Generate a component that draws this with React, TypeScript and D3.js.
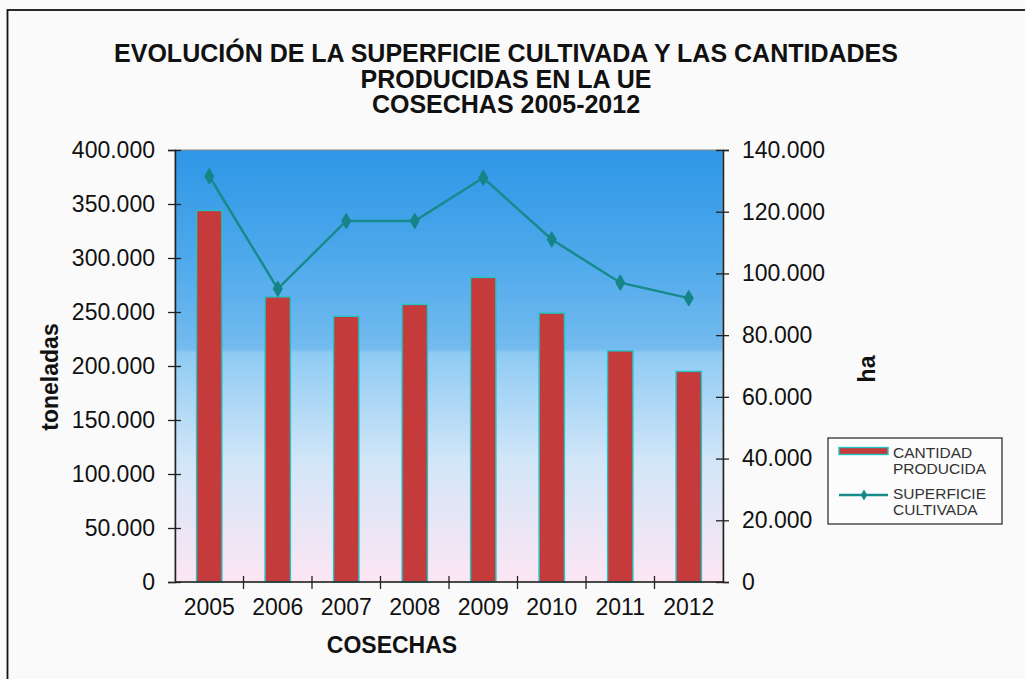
import * as d3 from "d3";
import { useEffect, useRef } from "react";

const years = ["2005", "2006", "2007", "2008", "2009", "2010", "2011", "2012"];
const cantidadProducida = [344000, 264000, 246000, 257000, 282000, 249000, 214000, 195000];
const superficieCultivada = [131500, 95000, 117000, 117000, 131000, 111000, 97000, 92000];
const leftTicks = [0, 50000, 100000, 150000, 200000, 250000, 300000, 350000, 400000];
const rightTicks = [0, 20000, 40000, 60000, 80000, 100000, 120000, 140000];
const titleLines = [
  "EVOLUCIÓN DE LA SUPERFICIE CULTIVADA Y LAS CANTIDADES",
  "PRODUCIDAS EN LA UE",
  "COSECHAS 2005-2012",
];

const FONT = "'Liberation Sans', Arial, sans-serif";

const App = () => {
  const ref = useRef<SVGSVGElement>(null);
  const width = 1025;
  const height = 679;

  useEffect(() => {
    const plot = { left: 175, right: 723, top: 150, bottom: 582 };
    const svg = d3.select(ref.current);
    svg.selectAll("*").remove();

    const es = d3.formatLocale({
      decimal: ",",
      thousands: ".",
      grouping: [3],
      currency: ["", "€"],
    });
    const fmt = es.format(",");

    svg.append("rect").attr("width", width).attr("height", height).attr("fill", "#fafafa");
    svg
      .append("rect")
      .attr("x", 7.5)
      .attr("y", 10)
      .attr("width", 1040)
      .attr("height", 700)
      .attr("fill", "none")
      .attr("stroke", "#111")
      .attr("stroke-width", 1.8);

    // title
    svg
      .append("g")
      .selectAll("text")
      .data(titleLines)
      .join("text")
      .attr("x", 506)
      .attr("y", (_, i) => 62 + i * 25.5)
      .attr("text-anchor", "middle")
      .attr("font-family", FONT)
      .attr("font-weight", "bold")
      .attr("font-size", 25)
      .attr("fill", "#111")
      .text((d) => d);

    const x = d3.scaleBand().domain(years).range([plot.left, plot.right]).padding(0);
    const yL = d3.scaleLinear().domain([0, 400000]).range([plot.bottom, plot.top]);
    const yR = d3.scaleLinear().domain([0, 140000]).range([plot.bottom, plot.top]);

    // background gradient
    const defs = svg.append("defs");
    const grad = defs
      .append("linearGradient")
      .attr("id", "bg")
      .attr("x1", 0)
      .attr("y1", 0)
      .attr("x2", 0)
      .attr("y2", 1);
    [
      [0, "#2e96e6"],
      [0.25, "#4ea9eb"],
      [0.46, "#74bbef"],
      [0.47, "#8ecbf4"],
      [0.72, "#d2e6f8"],
      [1, "#fde6f4"],
    ].forEach(([o, c]) => grad.append("stop").attr("offset", o).attr("stop-color", c));

    svg
      .append("rect")
      .attr("x", plot.left)
      .attr("y", plot.top)
      .attr("width", plot.right - plot.left)
      .attr("height", plot.bottom - plot.top)
      .attr("fill", "url(#bg)")
      .attr("stroke", "#8a8a80")
      .attr("stroke-width", 1);

    // bars
    const bw = x.bandwidth() * 0.37;
    svg
      .append("g")
      .selectAll("rect")
      .data(cantidadProducida)
      .join("rect")
      .attr("x", (_, i) => x(years[i])! + (x.bandwidth() - bw) / 2)
      .attr("y", (d) => yL(d))
      .attr("width", bw)
      .attr("height", (d) => plot.bottom - yL(d))
      .attr("fill", "#c53a3a")
      .attr("stroke", "#22c4c4")
      .attr("stroke-width", 1.4);

    // line
    const cx = (i: number) => x(years[i])! + x.bandwidth() / 2;
    const line = d3
      .line<number>()
      .x((_, i) => cx(i))
      .y((d) => yR(d));
    svg
      .append("path")
      .datum(superficieCultivada)
      .attr("d", line)
      .attr("fill", "none")
      .attr("stroke", "#178a8c")
      .attr("stroke-width", 2.5);
    const diamond = d3.symbol().type(d3.symbolDiamond).size(60);
    svg
      .append("g")
      .selectAll("path")
      .data(superficieCultivada)
      .join("path")
      .attr("transform", (d, i) => `translate(${cx(i)},${yR(d)})`)
      .attr("d", diamond())
      .attr("fill", "#168587")
      .attr("stroke", "#168587")
      .attr("stroke-width", 1.5)
      .attr("stroke-linejoin", "round");

    // axes
    const styleAxis = (g: d3.Selection<SVGGElement, unknown, null, undefined>) => {
      g.select(".domain").attr("stroke", "#222").attr("stroke-width", 1.5);
      g.selectAll(".tick line").attr("stroke", "#222").attr("stroke-width", 1.3);
      g.selectAll(".tick text")
        .attr("font-family", FONT)
        .attr("font-size", 23)
        .attr("fill", "#111");
    };

    const gL = svg
      .append("g")
      .attr("transform", `translate(${plot.left},0)`)
      .call(
        d3.axisLeft(yL).tickValues(leftTicks).tickFormat((d) => fmt(+d)).tickSizeOuter(0).tickSize(7).tickPadding(13)
      );
    gL.selectAll(".tick line").attr("x1", 6);
    styleAxis(gL);

    const gR = svg
      .append("g")
      .attr("transform", `translate(${plot.right},0)`)
      .call(
        d3.axisRight(yR).tickValues(rightTicks).tickFormat((d) => fmt(+d)).tickSizeOuter(0).tickSize(6).tickPadding(13)
      );
    gR.selectAll(".tick line").attr("x1", -7);
    styleAxis(gR);

    // x axis: labels at band centres, ticks at band edges
    const gX = svg
      .append("g")
      .attr("transform", `translate(0,${plot.bottom})`)
      .call(d3.axisBottom(x).tickSize(0).tickPadding(17));
    styleAxis(gX);
    gX.select(".domain").attr("d", `M${plot.left},0H${plot.right}`);
    svg
      .append("g")
      .selectAll("line")
      .data([...years.map((y) => x(y)!), plot.right].slice(1, -1))
      .join("line")
      .attr("x1", (d) => d)
      .attr("x2", (d) => d)
      .attr("y1", plot.bottom - 6)
      .attr("y2", plot.bottom + 7)
      .attr("stroke", "#222")
      .attr("stroke-width", 1.3);

    // axis titles
    const axisTitle = (t: string, tr: string) =>
      svg
        .append("text")
        .attr("transform", tr)
        .attr("text-anchor", "middle")
        .attr("font-family", FONT)
        .attr("font-weight", "bold")
        .attr("font-size", 23)
        .attr("fill", "#111")
        .text(t);
    axisTitle("COSECHAS", "translate(392,653)");
    axisTitle("toneladas", "translate(58,377) rotate(-90)");
    axisTitle("ha", "translate(875,369) rotate(-90)");

    // legend
    const lg = svg.append("g");
    lg.append("rect")
      .attr("x", 828)
      .attr("y", 438)
      .attr("width", 174)
      .attr("height", 86)
      .attr("fill", "#fcfcfc")
      .attr("stroke", "#222")
      .attr("stroke-width", 1.2);
    lg.append("rect")
      .attr("x", 839)
      .attr("y", 447.5)
      .attr("width", 49)
      .attr("height", 7)
      .attr("fill", "#c53a3a")
      .attr("stroke", "#22c4c4")
      .attr("stroke-width", 1.4);
    lg.append("line")
      .attr("x1", 839)
      .attr("x2", 888)
      .attr("y1", 495)
      .attr("y2", 495)
      .attr("stroke", "#178a8c")
      .attr("stroke-width", 2.5);
    lg.append("path")
      .attr("transform", "translate(864,495)")
      .attr("d", d3.symbol().type(d3.symbolDiamond).size(35)())
      .attr("fill", "#168587");
    const legendText = [
      ["CANTIDAD", 458],
      ["PRODUCIDA", 474],
      ["SUPERFICIE", 499],
      ["CULTIVADA", 515],
    ] as const;
    lg.selectAll("text.l")
      .data(legendText)
      .join("text")
      .attr("class", "l")
      .attr("x", 893)
      .attr("y", (d) => d[1])
      .attr("font-family", FONT)
      .attr("font-size", 15.5)
      .attr("fill", "#333")
      .text((d) => d[0]);
  }, []);

  return (
    <svg
      ref={ref}
      width={width}
      height={height}
      style={{ position: "absolute", left: 0, top: 0 }}
    ></svg>
  );
};

export default App;
